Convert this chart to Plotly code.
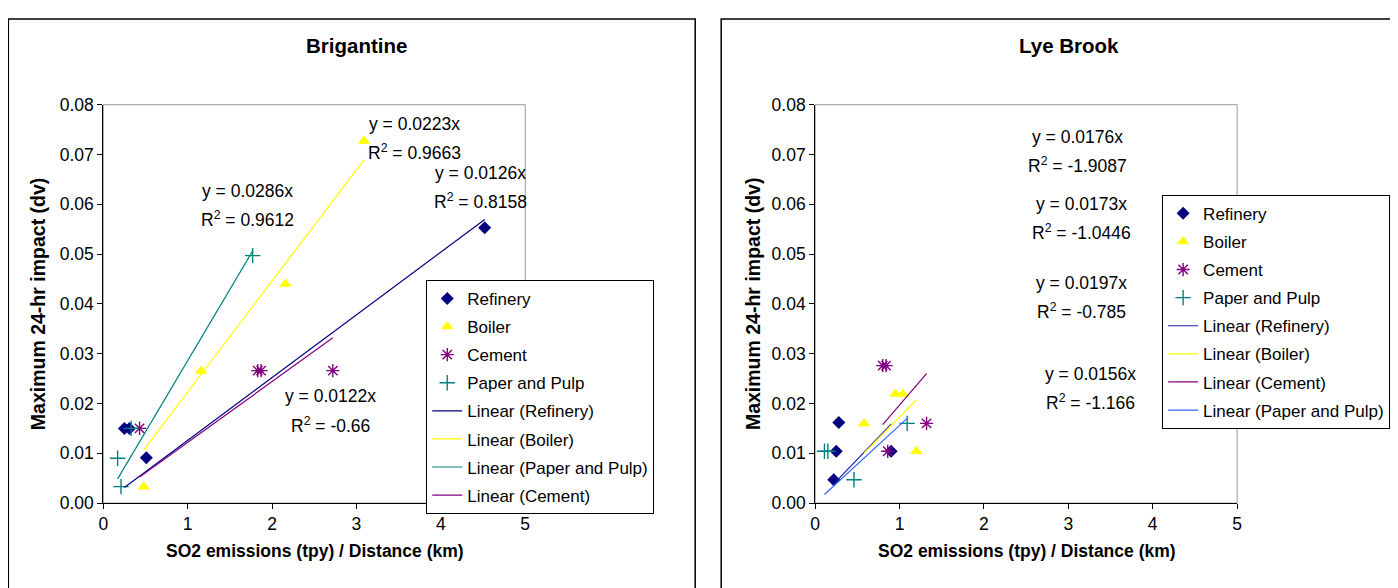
import plotly.graph_objects as go

W, H = 1398, 588
FONT = "Arial, Liberation Sans, sans-serif"

# calibration between reference pixel positions and page positions
SX, OX = 0.993, 12.7
SY, OY = 0.965, 17.4

series_names = ["Refinery", "Boiler", "Cement", "Paper and Pulp"]

# ---- Brigantine data ----
brig_refinery_x = [0.25, 0.31, 0.51, 4.52]
brig_refinery_y = [0.0150, 0.0150, 0.0091, 0.0553]
brig_boiler_x = [0.48, 1.16, 2.16, 3.09]
brig_boiler_y = [0.0033, 0.0265, 0.0440, 0.0727]
brig_cement_x = [0.43, 1.83, 1.87, 2.72]
brig_cement_y = [0.0150, 0.0266, 0.0266, 0.0266]
brig_paper_x = [0.17, 0.21, 0.33, 1.77]
brig_paper_y = [0.0090, 0.0033, 0.0150, 0.0497]
brig_slopes = {"Refinery": 0.0126, "Boiler": 0.0223, "Cement": 0.0122, "Paper and Pulp": 0.0286}
brig_r2 = {"Refinery": "0.8158", "Boiler": "0.9663", "Cement": "-0.66", "Paper and Pulp": "0.9612"}

# ---- Lye Brook data ----
lye_refinery_x = [0.22, 0.25, 0.28, 0.90]
lye_refinery_y = [0.0047, 0.0104, 0.0162, 0.0104]
lye_boiler_x = [0.58, 0.95, 1.04, 1.20]
lye_boiler_y = [0.0160, 0.0219, 0.0219, 0.0104]
lye_cement_x = [0.80, 0.84, 0.86, 1.32]
lye_cement_y = [0.0276, 0.0276, 0.0104, 0.0160]
lye_paper_x = [0.11, 0.15, 0.46, 1.09]
lye_paper_y = [0.0104, 0.0104, 0.0047, 0.0160]
lye_slopes = {"Refinery": 0.0176, "Boiler": 0.0173, "Cement": 0.0197, "Paper and Pulp": 0.0156}
lye_r2 = {"Refinery": "-1.9087", "Boiler": "-1.0446", "Cement": "-0.785", "Paper and Pulp": "-1.166"}

x_ticks = [0, 1, 2, 3, 4, 5]
y_ticks = [0.00, 0.01, 0.02, 0.03, 0.04, 0.05, 0.06, 0.07, 0.08]


def px(X):
    return ((X - OX) / SX) / W


def py(Y):
    return 1 - ((Y - OY) / SY) / H


marker_styles = {
    "Refinery": dict(symbol="diamond", color="#000080", size=10),
    "Boiler": dict(symbol="triangle-up", color="#FFFF00", size=11),
    "Cement": dict(symbol="asterisk-open", color="#800080", size=11, line=dict(color="#800080", width=1.4)),
    "Paper and Pulp": dict(symbol="cross-thin-open", color="#008080", size=11, line=dict(color="#008080", width=1.4)),
}

brig_data = {
    "Refinery": (brig_refinery_x, brig_refinery_y),
    "Boiler": (brig_boiler_x, brig_boiler_y),
    "Cement": (brig_cement_x, brig_cement_y),
    "Paper and Pulp": (brig_paper_x, brig_paper_y),
}
lye_data = {
    "Refinery": (lye_refinery_x, lye_refinery_y),
    "Boiler": (lye_boiler_x, lye_boiler_y),
    "Cement": (lye_cement_x, lye_cement_y),
    "Paper and Pulp": (lye_paper_x, lye_paper_y),
}

brig_line_colors = {"Refinery": "#000080", "Boiler": "#FFFF00", "Cement": "#800080", "Paper and Pulp": "#008080"}
lye_line_colors = {"Refinery": "#1a1aa6", "Boiler": "#FFFF00", "Cement": "#800080", "Paper and Pulp": "#3366FF"}

brig_line_order = ["Refinery", "Boiler", "Paper and Pulp", "Cement"]
lye_line_order = ["Refinery", "Boiler", "Cement", "Paper and Pulp"]

fig = go.Figure()


def add_chart(data, slopes, line_colors, line_order, xa, ya, legend, prefix):
    for name in series_names:
        xs, ys = data[name]
        fig.add_trace(go.Scatter(
            x=xs, y=ys, mode="markers", name=name, marker=marker_styles[name],
            xaxis=xa, yaxis=ya, legend=legend, legendgroup=prefix + name,
        ))
    for name in line_order:
        xs, _ = data[name]
        x0, x1 = min(xs), max(xs)
        fig.add_trace(go.Scatter(
            x=[x0, x1], y=[slopes[name] * x0, slopes[name] * x1], mode="lines",
            name="Linear (%s)" % name, line=dict(color=line_colors[name], width=1.2),
            xaxis=xa, yaxis=ya, legend=legend, legendgroup=prefix + "L" + name,
        ))


add_chart(brig_data, brig_slopes, brig_line_colors, brig_line_order, "x", "y", "legend", "b")
add_chart(lye_data, lye_slopes, lye_line_colors, lye_line_order, "x2", "y2", "legend2", "l")

axis_common = dict(
    showgrid=False, zeroline=False, showline=True, linecolor="black", linewidth=1,
    ticks="outside", ticklen=5, tickcolor="black", tickwidth=1,
    tickfont=dict(family=FONT, size=17.5, color="black"),
)

legend_common = dict(xanchor="left", yanchor="top", bgcolor="white",
                     bordercolor="black", borderwidth=1, tracegroupgap=3,
                     font=dict(family=FONT, size=17, color="black"))

y_dom = [py(502), py(104)]
fig.update_layout(
    width=W, height=H,
    margin=dict(l=0, r=0, t=0, b=0),
    paper_bgcolor="white", plot_bgcolor="white",
    font=dict(family=FONT, color="black"),
    showlegend=True,
    xaxis=dict(domain=[px(103), px(525)], range=[0, 5], tickvals=x_ticks, anchor="y", **axis_common),
    yaxis=dict(domain=y_dom, range=[0, 0.08], tickvals=y_ticks, tickformat=".2f", anchor="x", **axis_common),
    xaxis2=dict(domain=[px(815), px(1237)], range=[0, 5], tickvals=x_ticks, anchor="y2", **axis_common),
    yaxis2=dict(domain=y_dom, range=[0, 0.08], tickvals=y_ticks, tickformat=".2f", anchor="x2", **axis_common),
    legend=dict(x=px(426), y=py(279), **legend_common),
    legend2=dict(x=px(1162), y=py(194), **legend_common),
)

top_frame = 1 - 1.0 / H
shapes = []
# outer chart frames
shapes.append(dict(type="rect", xref="paper", yref="paper", x0=px(8), x1=px(695), y0=-0.1, y1=top_frame,
                   line=dict(color="black", width=1.5), layer="below"))
shapes.append(dict(type="rect", xref="paper", yref="paper", x0=px(721), x1=1.05, y0=-0.1, y1=top_frame,
                   line=dict(color="black", width=1.5), layer="below"))
# plot area borders (grey)
for xr, yr in (("x domain", "y domain"), ("x2 domain", "y2 domain")):
    shapes.append(dict(type="rect", xref=xr, yref=yr, x0=0, x1=1, y0=0, y1=1,
                       line=dict(color="#999999", width=1), layer="below"))
fig.update_layout(shapes=shapes)

ann = []


def add_text(text, X, Y, font, angle=0):
    ann.append(dict(text=text, x=px(X), y=py(Y), xref="paper", yref="paper", showarrow=False,
                    xanchor="center", yanchor="middle", textangle=angle, font=font))


title_font = dict(family=FONT, size=20.5, color="black")
add_text("<b>Brigantine</b>", 356, 45, title_font)
add_text("<b>Lye Brook</b>", 1069, 45, title_font)

xt_font = dict(family=FONT, size=17.5, color="black")
yt_font = dict(family=FONT, size=19.5, color="black")
xtitle = "<b>SO2 emissions (tpy) / Distance (km)</b>"
ytitle = "<b>Maximum 24-hr impact (dv)</b>"
add_text(xtitle, 315, 550, xt_font)
add_text(xtitle, 1027, 550, xt_font)
add_text(ytitle, 38, 303, yt_font, -90)
add_text(ytitle, 753, 303, yt_font, -90)

eq_font = dict(family=FONT, size=17.5, color="black")
brig_eq_pos = {"Paper and Pulp": (247, 190), "Boiler": (414, 123), "Refinery": (480, 172), "Cement": (330, 395)}
lye_eq_pos = {"Refinery": (1077, 136), "Boiler": (1081, 203), "Cement": (1081, 282), "Paper and Pulp": (1090, 373)}
for slopes, r2, pos in ((brig_slopes, brig_r2, brig_eq_pos), (lye_slopes, lye_r2, lye_eq_pos)):
    for name, (X, Y) in pos.items():
        add_text("y = %sx" % slopes[name], X, Y, eq_font)
        add_text("R<sup>2</sup> = %s" % r2[name], X, Y + 28.5, eq_font)
fig.update_layout(annotations=ann)

fig.write_html("out.html")
